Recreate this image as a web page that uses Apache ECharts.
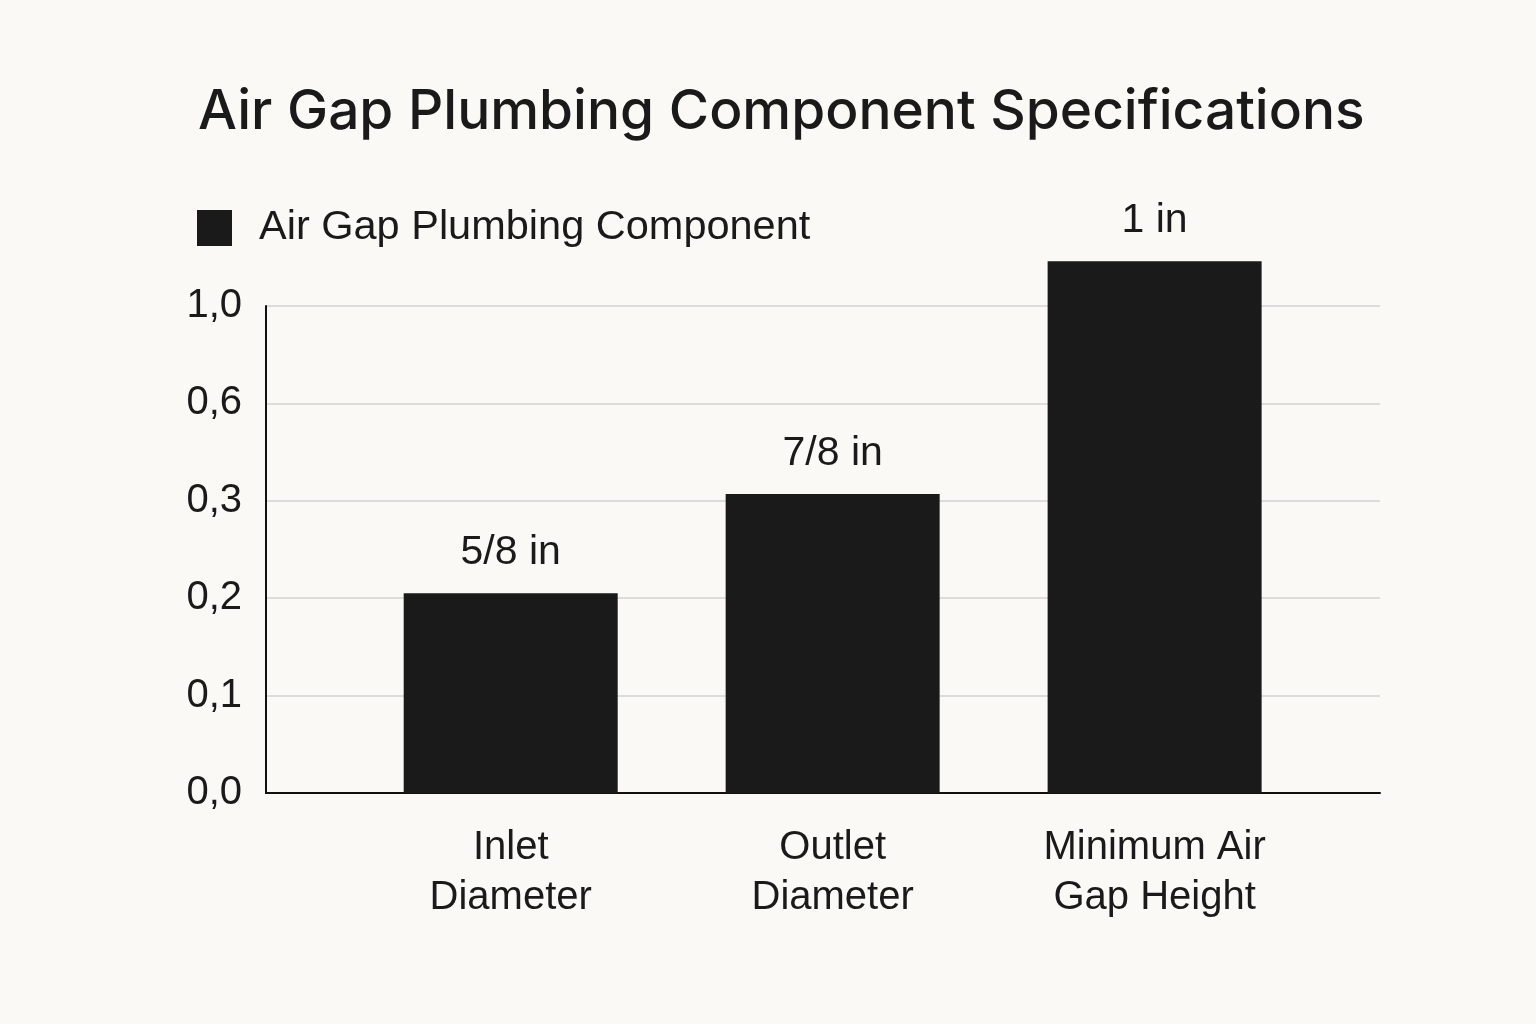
<!DOCTYPE html>
<html><head><meta charset="utf-8">
<script src="https://cdn.jsdelivr.net/npm/echarts@6/dist/echarts.min.js"></script>
<style>html,body{margin:0;padding:0;background:#faf9f5}#c{width:1536px;height:1024px}</style>
</head><body><div id="c"></div>
<script>
const categories = ['Inlet\nDiameter', 'Outlet\nDiameter', 'Minimum Air\nGap Height'];
const values = [2.05, 3.07, 5.46];
const valueLabels = ['5/8 in', '7/8 in', '1 in'];
const yTickLabels = ['0,0', '0,1', '0,2', '0,3', '0,6', '1,0'];
const seriesName = 'Air Gap Plumbing Component';

const chart = echarts.init(document.getElementById('c'));
const font = '"Liberation Sans", Arial, sans-serif';
chart.setOption({
  backgroundColor: '#faf9f5',
  animation: false,
  title: {
    text: 'Air Gap Plumbing Component Specifications',
    left: 193, top: 80,
    textStyle: { fontFamily: 'Inter, "Liberation Sans", sans-serif', fontSize: 55, fontWeight: 500, color: '#1a1a1a' }
  },
  legend: {
    left: 192, top: 202,
    itemWidth: 35, itemHeight: 36,
    icon: 'rect',
    textStyle: { fontFamily: font, fontSize: 41.5, color: '#1a1a1a', padding: [0, 0, 0, 22] },
    data: [seriesName]
  },
  grid: { left: 266, right: 156, top: 306, bottom: 231 },
  xAxis: {
    type: 'value',
    min: -0.76, max: 2.7,
    axisLine: { show: true, onZero: false, lineStyle: { color: '#111', width: 2 } },
    axisTick: { show: false },
    splitLine: { show: false },
    axisLabel: { fontFamily: font, fontSize: 40, color: '#1a1a1a', lineHeight: 50, margin: 30,
      customValues: categories.map((c, i) => i),
      formatter: v => categories[Math.round(v)] }
  },
  yAxis: {
    type: 'value', min: 0, max: 5, interval: 1,
    axisLine: { show: true, onZero: false, lineStyle: { color: '#111', width: 2 } },
    axisTick: { show: false },
    splitLine: { lineStyle: { color: '#dcdcdc', width: 2 } },
    axisLabel: { fontFamily: font, fontSize: 40, color: '#1a1a1a', margin: 24,
      formatter: v => yTickLabels[Math.round(v)] }
  },
  series: [{
    name: seriesName,
    type: 'bar',
    data: values.map((v, i) => [i, v]),
    barWidth: 214,
    clip: false,
    itemStyle: { color: '#1a1a1a' },
    label: { show: true, position: 'top', distance: 20, fontFamily: font, fontSize: 41, color: '#1a1a1a',
      formatter: p => valueLabels[p.dataIndex] }
  }]
});
</script></body></html>
